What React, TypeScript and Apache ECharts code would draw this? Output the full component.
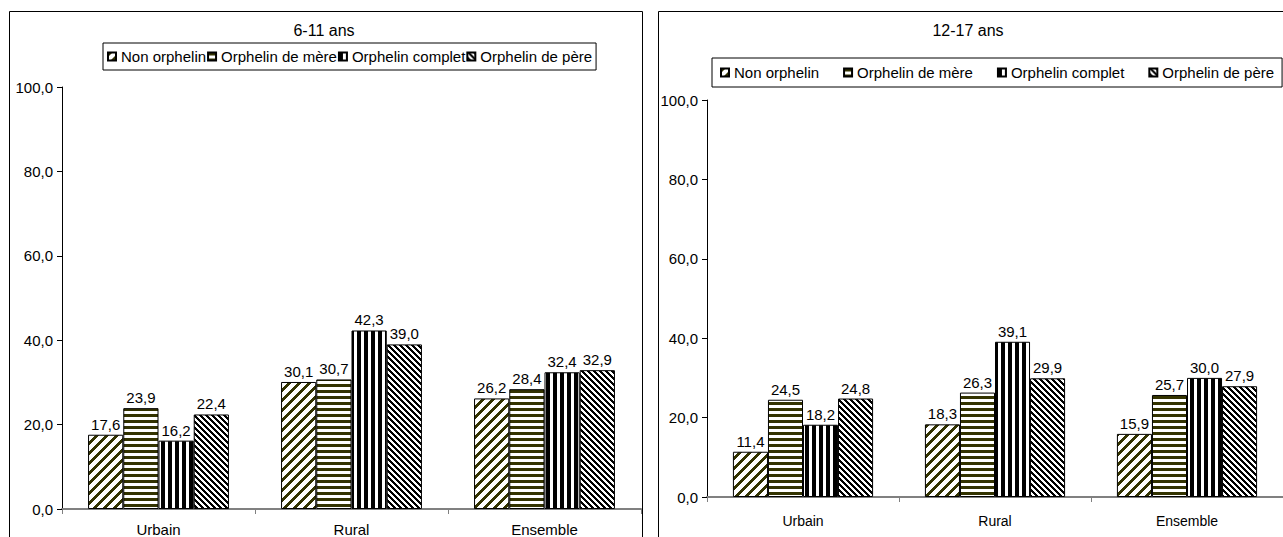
import React, { useEffect, useRef } from 'react';
import * as echarts from 'echarts';

const categories = ['Urbain', 'Rural', 'Ensemble'];
const seriesNames = ['Non orphelin', 'Orphelin de mère', 'Orphelin complet', 'Orphelin de père'];
const titleLeft = '6-11 ans';
const titleRight = '12-17 ans';

const nonOrphelin611 = [17.6, 30.1, 26.2];
const mere611 = [23.9, 30.7, 28.4];
const complet611 = [16.2, 42.3, 32.4];
const pere611 = [22.4, 39.0, 32.9];

const nonOrphelin1217 = [11.4, 18.3, 15.9];
const mere1217 = [24.5, 26.3, 25.7];
const complet1217 = [18.2, 39.1, 30.0];
const pere1217 = [24.8, 29.9, 27.9];

const yMin = 0;
const yMax = 100;
const yInterval = 20;

const fmt = (v: number) => Number(v).toFixed(1).replace('.', ',');

function pickFont() {
  try {
    const ctx = document.createElement('canvas').getContext('2d')!;
    const t = 'Orphelin de mère 100,0';
    ctx.font = '40px monospace';
    const m = ctx.measureText(t).width;
    ctx.font = "40px 'Liberation Sans Narrow', monospace";
    const n = ctx.measureText(t).width;
    if (Math.abs(m - n) > 1) return { family: "'Liberation Sans Narrow', sans-serif", scale: 1 };
  } catch (e) {}
  return { family: "'Liberation Sans', Arial, sans-serif", scale: 0.84 };
}

function makePattern(size: number, fg: string, test: (x: number, y: number) => boolean) {
  const c = document.createElement('canvas');
  c.width = size;
  c.height = size;
  const ctx = c.getContext('2d')!;
  ctx.fillStyle = '#ffffff';
  ctx.fillRect(0, 0, size, size);
  ctx.fillStyle = fg;
  for (let y = 0; y < size; y++) {
    for (let x = 0; x < size; x++) {
      if (test(x, y)) ctx.fillRect(x, y, 1, 1);
    }
  }
  return { image: c.toDataURL(), repeat: 'repeat', imageWidth: size, imageHeight: size } as any;
}

export default function App() {
  const ref = useRef<HTMLDivElement>(null);
  useEffect(() => {
    if (!ref.current) return;
    const chart = echarts.init(ref.current, undefined, { renderer: 'svg' });
    const { family, scale } = pickFont();
    const fs = Math.round(18 * scale);
    const fsTitle = Math.round(19 * scale);
    const fsCat2 = Math.round(17 * scale);

    const patterns = [
      makePattern(10, '#333300', (x, y) => (x + y) % 10 < 4),
      makePattern(6, '#333300', (x, y) => y % 6 < 3),
      makePattern(7, '#000000', (x, y) => x % 7 < 4),
      makePattern(6, '#000000', (x, y) => (x - y + 60) % 6 < 3),
    ];

    const makeSeries = (arrs: number[][], idx: number) =>
      arrs.map((d, i) => ({
        type: 'bar',
        name: seriesNames[i],
        xAxisIndex: idx,
        yAxisIndex: idx,
        data: d,
        barGap: '0%',
        barCategoryGap: '27%',
        itemStyle: { color: patterns[i], borderColor: '#000', borderWidth: 1 },
        label: {
          show: true,
          position: 'top',
          distance: 3,
          formatter: (p: any) => fmt(p.value),
          fontSize: fs,
          fontFamily: family,
          color: '#000',
        },
        emphasis: { disabled: true },
      }));

    const xAxis = (gridIndex: number, size: number, margin: number) => ({
      type: 'category',
      gridIndex,
      data: categories,
      axisLine: { show: true, lineStyle: { color: '#808080', width: 2 } },
      axisTick: { show: true, length: 5, lineStyle: { color: '#808080', width: 1 } },
      axisLabel: { fontSize: size, fontFamily: family, color: '#000', margin },
      splitLine: { show: false },
    });

    const yAxis = (gridIndex: number) => ({
      type: 'value',
      gridIndex,
      min: yMin,
      max: yMax,
      interval: yInterval,
      axisLine: { show: true, lineStyle: { color: '#000', width: 1 } },
      axisTick: { show: true, length: 5, lineStyle: { color: '#000', width: 1 } },
      splitLine: { show: false },
      axisLabel: { formatter: (v: number) => fmt(v), fontSize: fs, fontFamily: family, color: '#000', margin: 9 },
    });

    const legendBase = {
      orient: 'horizontal',
      data: seriesNames,
      icon: 'rect',
      itemWidth: 8,
      itemHeight: 8,
      borderColor: '#000',
      borderWidth: 1,
      selectedMode: false,
      textStyle: { fontSize: fs, fontFamily: family, color: '#000', lineHeight: 19 },
    };

    const option: any = {
      animation: false,
      backgroundColor: '#ffffff',
      grid: [
        { left: 62, top: 87, width: 579, height: 423 },
        { left: 707, top: 100, width: 585, height: 397 },
      ],
      xAxis: [xAxis(0, fs, 13), xAxis(1, fsCat2, 17)],
      yAxis: [yAxis(0), yAxis(1)],
      legend: [
        { ...legendBase, left: 103, top: 43, itemGap: 1, padding: [4, 4] },
        { ...legendBase, left: 712, top: 58, itemGap: 24, padding: [5, 8] },
      ],
      graphic: [
        {
          type: 'rect',
          silent: true,
          z: -10,
          shape: { x: 9.5, y: 11.5, width: 633, height: 600 },
          style: { fill: 'none', stroke: '#000', lineWidth: 1 },
        },
        {
          type: 'rect',
          silent: true,
          z: -10,
          shape: { x: 658.5, y: 11.5, width: 700, height: 600 },
          style: { fill: 'none', stroke: '#000', lineWidth: 1 },
        },
        {
          type: 'text',
          x: 324,
          y: 30,
          style: {
            text: titleLeft,
            fontSize: fsTitle,
            fontFamily: family,
            fill: '#000',
            align: 'center',
            verticalAlign: 'middle',
            textAlign: 'center',
            textVerticalAlign: 'middle',
          },
        },
        {
          type: 'text',
          x: 968,
          y: 30,
          style: {
            text: titleRight,
            fontSize: fsTitle,
            fontFamily: family,
            fill: '#000',
            align: 'center',
            verticalAlign: 'middle',
            textAlign: 'center',
            textVerticalAlign: 'middle',
          },
        },
      ],
      series: [
        ...makeSeries([nonOrphelin611, mere611, complet611, pere611], 0),
        ...makeSeries([nonOrphelin1217, mere1217, complet1217, pere1217], 1),
      ],
    };
    chart.setOption(option);
    return () => chart.dispose();
  }, []);
  return (
    <div
      ref={ref}
      style={{ position: 'absolute', left: 0, top: 0, width: 1283, height: 537, background: '#fff' }}
    />
  );
}
